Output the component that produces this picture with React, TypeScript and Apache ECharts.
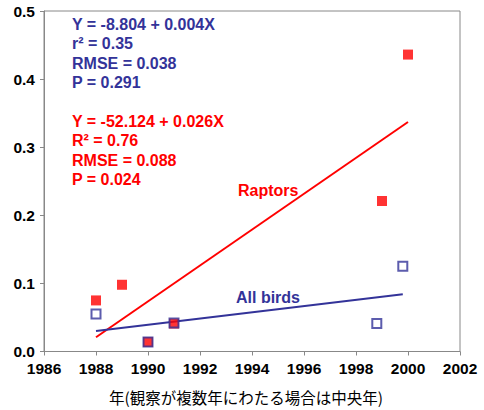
import React, { useEffect, useRef } from "react";
import * as echarts from "echarts";

const raptorsPoints: [number, number][] = [
  [1988, 0.075],
  [1989, 0.098],
  [1990, 0.014],
  [1991, 0.041],
  [1999, 0.221],
  [2000, 0.436],
];
const allBirdsPoints: [number, number][] = [
  [1988, 0.055],
  [1990, 0.014],
  [1991, 0.042],
  [1998.8, 0.041],
  [1999.8, 0.125],
];
const raptorsFit: [number, number][] = [
  [1988, 0.021],
  [2000, 0.337],
];
const allBirdsFit: [number, number][] = [
  [1988, 0.03],
  [1999.8, 0.084],
];
const blueStats = ["Y = -8.804 + 0.004X", "r² = 0.35", "RMSE = 0.038", "P = 0.291"];
const redStats = ["Y = -52.124 + 0.026X", "R² = 0.76", "RMSE = 0.088", "P = 0.024"];
const xTitle = "年(観察が複数年にわたる場合は中央年)";

const BLUE = "#333399";
const RED = "#ff0000";
const FONT = "Arial, 'Liberation Sans', sans-serif";

export default function App() {
  const ref = useRef<HTMLDivElement>(null);
  useEffect(() => {
    if (!ref.current) return;
    const chart = echarts.init(ref.current, undefined, { renderer: "svg" });
    const statText = (lines: string[], top: number, color: string, key: string) =>
      lines.map((t, i) => ({
        type: "text",
        id: key + i,
        left: 72,
        top: top + i * 19.5,
        style: {
          text: t,
          fill: color,
          font: `bold 16px ${FONT}`,
        },
      }));
    chart.setOption({
      animation: false,
      backgroundColor: "#ffffff",
      grid: {
        left: 44,
        right: 24,
        top: 11,
        bottom: 57,
        show: true,
        borderColor: "#888888",
        borderWidth: 1,
      },
      xAxis: {
        type: "value",
        min: 1986,
        max: 2002,
        interval: 2,
        name: xTitle,
        nameLocation: "middle",
        nameGap: 38,
        nameTextStyle: {
          color: "#000",
          fontSize: 15.5,
          fontFamily: "'Noto Sans CJK JP', sans-serif",
          padding: [0, 12, 0, 0],
        },
        axisLine: { lineStyle: { color: "#888888", width: 1 } },
        axisTick: { show: true, inside: false, length: 4, lineStyle: { color: "#888888" } },
        splitLine: { show: false },
        axisLabel: {
          color: "#000",
          fontWeight: "bold",
          fontSize: 15.5,
          fontFamily: FONT,
          margin: 9,
          formatter: (v: number) => String(v),
        },
      },
      yAxis: {
        type: "value",
        min: 0,
        max: 0.5,
        interval: 0.1,
        axisLine: { show: true, lineStyle: { color: "#888888", width: 1 } },
        axisTick: { show: true, inside: false, length: 4, lineStyle: { color: "#888888" } },
        splitLine: { show: false },
        axisLabel: {
          color: "#000",
          fontWeight: "bold",
          fontSize: 15.5,
          fontFamily: FONT,
          margin: 9,
          formatter: (v: number) => v.toFixed(1),
        },
      },
      graphic: [
        ...statText(blueStats, 16, BLUE, "b"),
        ...statText(redStats, 113, RED, "r"),
        {
          type: "text",
          left: 238,
          top: 182,
          style: { text: "Raptors", fill: RED, font: `bold 16px ${FONT}` },
        },
        {
          type: "text",
          left: 236,
          top: 289,
          style: { text: "All birds", fill: BLUE, font: `bold 16px ${FONT}` },
        },
      ],
      series: [
        {
          type: "line",
          data: raptorsFit,
          symbol: "none",
          lineStyle: { color: RED, width: 2 },
          z: 1,
        },
        {
          type: "line",
          data: allBirdsFit,
          symbol: "none",
          lineStyle: { color: BLUE, width: 2 },
          z: 1,
        },
        {
          type: "scatter",
          data: raptorsPoints,
          symbol: "rect",
          symbolSize: 10,
          itemStyle: { color: RED },
          z: 2,
        },
        {
          type: "scatter",
          data: allBirdsPoints,
          symbol: "rect",
          symbolSize: 9,
          itemStyle: { color: "rgba(0,0,0,0)", borderColor: BLUE, borderWidth: 2 },
          z: 3,
        },
      ],
    });
    return () => chart.dispose();
  }, []);
  return (
    <div
      ref={ref}
      style={{ position: "absolute", left: 0, top: 0, width: 484, height: 410 }}
    />
  );
}
